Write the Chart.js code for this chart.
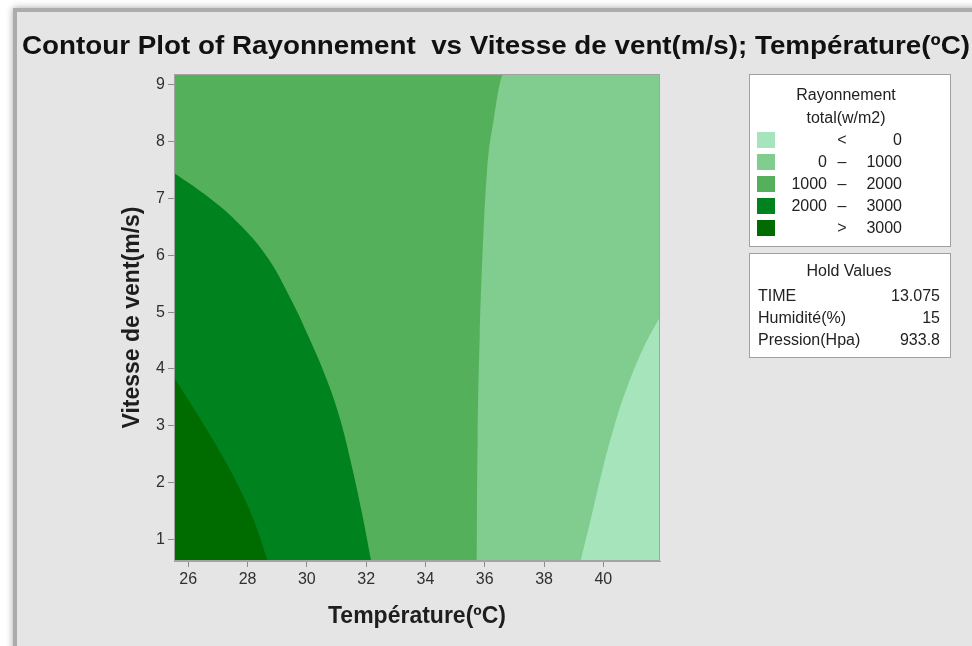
<!DOCTYPE html>
<html>
<head>
<meta charset="utf-8">
<script src="https://cdn.jsdelivr.net/npm/chart.js@4.4.1/dist/chart.umd.min.js"></script>
<style>
  html, body { margin: 0; padding: 0; background: #fff; overflow: hidden; }
  #panel {
    position: absolute; left: 13px; top: 8px; width: 980px; height: 660px;
    background: #e5e5e5; border-left: 4px solid #acacac; border-top: 4px solid #acacac;
    box-shadow: 0 0 7px rgba(0, 0, 0, 0.35);
  }
  #wrap { position: absolute; left: 0; top: 0; width: 972px; height: 646px; }
</style>
</head>
<body>
<div id="panel"></div>
<div id="wrap"><canvas id="contourChart" width="972" height="646"></canvas></div>
<script>
const FONT = '"Liberation Sans", Arial, sans-serif';

// axes
const tempRange = [25.52, 41.91];
const windRange = [0.62, 9.19];
const tempTicks = [26, 28, 30, 32, 34, 36, 38, 40];
const windTicks = [1, 2, 3, 4, 5, 6, 7, 8, 9];

// contour levels (Rayonnement total, w/m2)
const levelLow = ['', '0', '1000', '2000', ''];
const levelSign = ['<', '–', '–', '–', '>'];
const levelHigh = ['0', '1000', '2000', '3000', '3000'];
const levelColors = ['#a6e5bb', '#80cd8f', '#54b05b', '#00821f', '#006c00'];

// contour boundaries (temperature, wind speed)
const tempA = [25.52, 26.01, 26.57, 27.14, 27.70, 28.21, 28.68];   // 3000 line
const windA = [3.86, 3.45, 2.98, 2.48, 1.93, 1.34, 0.62];
const tempB = [25.52, 26.51, 27.64, 28.65, 29.44, 30.11, 30.68, 31.13, 31.52, 31.86, 32.17]; // 2000 line
const windB = [7.45, 7.09, 6.59, 5.98, 5.25, 4.51, 3.80, 3.10, 2.28, 1.46, 0.62];
const tempC = [35.72, 35.76, 35.83, 35.95, 36.08, 36.30, 36.64, 41.91]; // 1000 line, then top edge
const windC = [0.62, 2.81, 4.57, 6.33, 7.50, 8.38, 9.19, 9.19];
const tempD = [39.23, 39.57, 39.91, 40.36, 40.81, 41.37, 41.91];   // 0 line
const windD = [0.62, 1.34, 2.10, 2.98, 3.69, 4.39, 4.92];
const tempTop = [25.52, 41.91];                                     // whole plot top edge
const windTop = [9.19, 9.19];

// hold values box
const holdNames = ['TIME', 'Humidité(%)', 'Pression(Hpa)'];
const holdValues = ['13.075', '15', '933.8'];

const titleText = 'Contour Plot of Rayonnement  vs Vitesse de vent(m/s); Température(ºC)';

const pts = (xs, ys) => xs.map((x, i) => ({ x, y: ys[i] }));
function band(label, xs, ys, color, smooth) {
  const ds = {
    label, data: pts(xs, ys),
    backgroundColor: color, borderColor: 'rgba(0,0,0,0)', borderWidth: 1,
    pointRadius: 0, fill: 'start', tension: 0.4
  };
  if (smooth === 'monotone') ds.cubicInterpolationMode = 'monotone';
  return ds;
}

const extras = {
  id: 'extras',
  afterDatasetsDraw(chart) {
    const { ctx, chartArea: a } = chart;
    ctx.save();
    ctx.strokeStyle = '#a3a3a3';
    ctx.lineWidth = 1;
    ctx.strokeRect(a.left + 0.5, a.top + 0.5, a.right - a.left - 1, a.bottom - a.top - 1);
    ctx.restore();
  },
  afterDraw(chart) {
    const ctx = chart.ctx;
    ctx.save();
    // title, fitted to the reference width
    ctx.font = 'bold 25px ' + FONT;
    ctx.fillStyle = '#111';
    ctx.textBaseline = 'middle';
    const w = ctx.measureText(titleText).width;
    ctx.translate(22, 47);
    ctx.scale(948 / w, 1);
    ctx.fillText(titleText, 0, 0);
    ctx.setTransform(1, 0, 0, 1, 0, 0);

    // level legend
    ctx.fillStyle = '#fff';
    ctx.strokeStyle = '#a0a0a0';
    ctx.lineWidth = 1;
    ctx.fillRect(749.5, 74.5, 201, 172);
    ctx.strokeRect(749.5, 74.5, 201, 172);
    ctx.fillRect(749.5, 253.5, 201, 104);
    ctx.strokeRect(749.5, 253.5, 201, 104);

    ctx.font = '16px ' + FONT;
    ctx.fillStyle = '#222';
    ctx.textAlign = 'center';
    ctx.fillText('Rayonnement', 846, 96);
    ctx.fillText('total(w/m2)', 846, 119);
    levelColors.forEach((c, i) => {
      const y = 141 + i * 22;
      ctx.fillStyle = c;
      ctx.fillRect(757, y - 9, 18, 16);
      ctx.fillStyle = '#222';
      ctx.textAlign = 'right';
      ctx.fillText(levelLow[i], 827, y);
      ctx.fillText(levelHigh[i], 902, y);
      ctx.textAlign = 'center';
      ctx.fillText(levelSign[i], 842, y);
    });

    // hold values
    ctx.textAlign = 'center';
    ctx.fillText('Hold Values', 849, 272);
    holdNames.forEach((n, i) => {
      const y = 297 + i * 21.7;
      ctx.textAlign = 'left';
      ctx.fillText(n, 758, y);
      ctx.textAlign = 'right';
      ctx.fillText(holdValues[i], 940, y);
    });
    ctx.restore();
  }
};

new Chart(document.getElementById('contourChart'), {
  type: 'line',
  data: {
    datasets: [
      band('> 3000', tempA, windA, levelColors[4]),
      band('2000 – 3000', tempB, windB, levelColors[3]),
      band('< 0', tempD, windD, levelColors[0]),
      band('0 – 1000', tempC, windC, levelColors[1], 'monotone'),
      band('1000 – 2000', tempTop, windTop, levelColors[2])
    ]
  },
  options: {
    responsive: false,
    animation: false,
    layout: { padding: { left: 108, top: 74, right: 312, bottom: 10 } },
    plugins: { legend: { display: false }, tooltip: { enabled: false } },
    scales: {
      x: {
        type: 'linear', min: tempRange[0], max: tempRange[1],
        afterBuildTicks: s => { s.ticks = tempTicks.map(v => ({ value: v })); },
        afterFit: s => { s.height = 75; },
        grid: { drawOnChartArea: false, tickLength: 6, color: '#8c8c8c' },
        border: { color: '#a3a3a3' },
        ticks: { color: '#303030', padding: 3, maxRotation: 0, font: { family: FONT, size: 16 } },
        title: {
          display: true, text: 'Température(ºC)', color: '#1e1e1e',
          font: { family: FONT, size: 23, weight: 'bold' }, padding: { top: 0, bottom: 6 }
        }
      },
      y: {
        type: 'linear', min: windRange[0], max: windRange[1],
        afterBuildTicks: s => { s.ticks = windTicks.map(v => ({ value: v })); },
        afterFit: s => { s.width = 66; },
        grid: { drawOnChartArea: false, tickLength: 6, color: '#8c8c8c' },
        border: { color: '#a3a3a3' },
        ticks: { color: '#303030', padding: 3, font: { family: FONT, size: 16 } },
        title: {
          display: true, text: 'Vitesse de vent(m/s)', color: '#1e1e1e',
          font: { family: FONT, size: 23, weight: 'bold' }, padding: { top: 11, bottom: 0 }
        }
      }
    }
  },
  plugins: [extras]
});
</script>
</body>
</html>
